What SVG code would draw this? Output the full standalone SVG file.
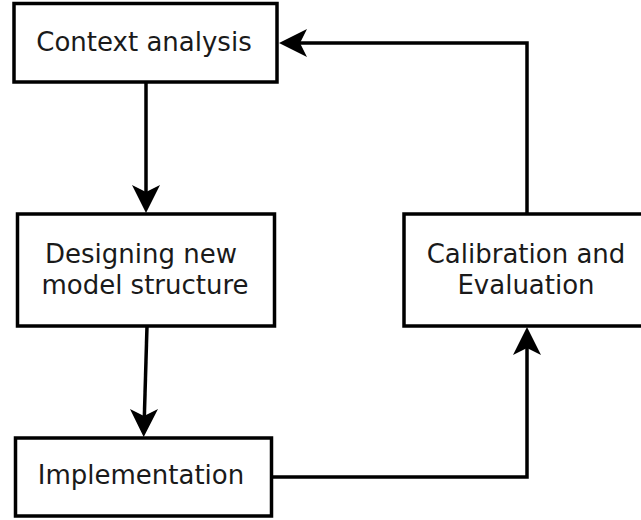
<svg xmlns="http://www.w3.org/2000/svg" width="641" height="520" viewBox="0 0 641 520">
<style>
.box{fill:#fff;stroke:#000;stroke-width:3.5}
.lbl{font-family:"DejaVu Sans",sans-serif;font-size:26px;fill:#1a1a1a;text-anchor:middle}
.edge{fill:none;stroke:#000;stroke-width:3.5}
.head{fill:#000}
</style>
<g id="context">
<rect class="box" x="14" y="3.5" width="263" height="78.5"/>
<text class="lbl" x="144" y="51">Context analysis</text>
</g>
<g id="designing">
<rect class="box" x="17.5" y="214" width="257" height="112"/>
<text class="lbl" x="141" y="263">Designing new</text>
<text class="lbl" x="145" y="294">model structure</text>
</g>
<g id="calibration">
<rect class="box" x="404" y="214" width="246" height="112"/>
<text class="lbl" x="526" y="263">Calibration and</text>
<text class="lbl" x="526" y="294">Evaluation</text>
</g>
<g id="implementation">
<rect class="box" x="15.5" y="438" width="256" height="78"/>
<text class="lbl" x="141" y="484">Implementation</text>
</g>
<g id="connectors">
<path class="edge" d="M146,82 L146,195"/>
<path class="head" d="M146,213 L132,185 L146,192 L160,185 Z"/>
<path class="edge" d="M147,326 L144.3,418"/>
<path class="head" d="M143.7,437 L130,409 L144,416 L158,409 Z"/>
<path class="edge" d="M271,477 L527,477 L527,346"/>
<path class="head" d="M527,327 L513,355 L527,348 L541,355 Z"/>
<path class="edge" d="M527,214 L527,43 L300,43"/>
<path class="head" d="M279,43 L307,29 L300,43 L307,57 Z"/>
</g>
</svg>
